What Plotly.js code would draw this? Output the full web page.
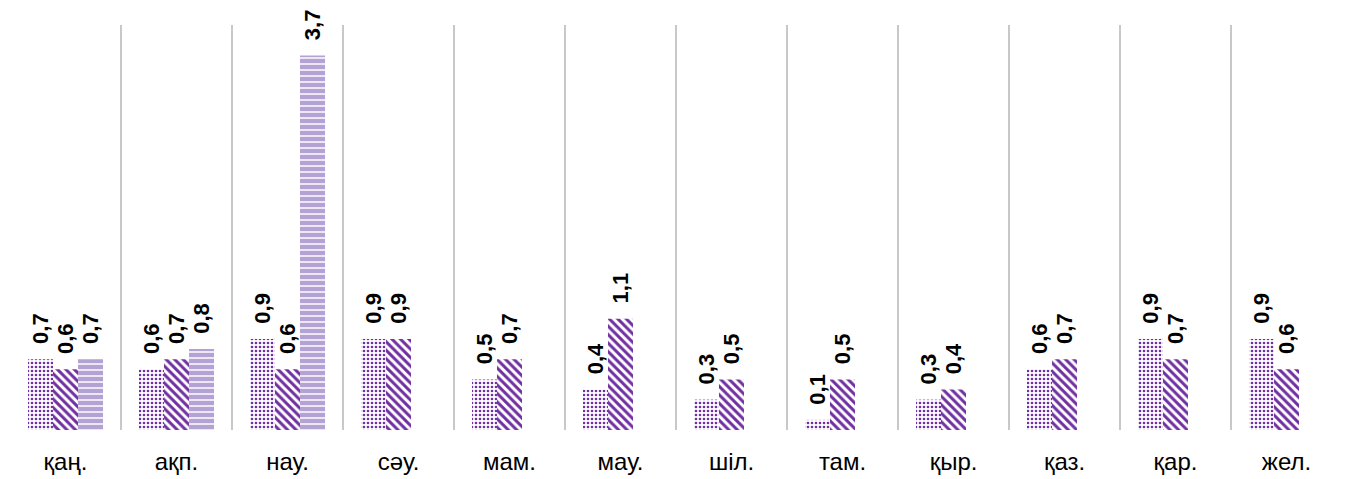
<!DOCTYPE html>
<html><head><meta charset="utf-8">
<script src="https://cdn.plot.ly/plotly-3.0.1.min.js"></script>
<style>body{margin:0;background:#fff}#c{width:1353px;height:479px}</style>
</head><body><div id="c"></div>
<script>
const months = ['қаң.','ақп.','нау.','сәу.','мам.','мау.','шіл.','там.','қыр.','қаз.','қар.','жел.'];
const series1 = [0.7,0.6,0.9,0.9,0.5,0.4,0.3,0.1,0.3,0.6,0.9,0.9];
const series2 = [0.6,0.7,0.6,0.9,0.7,1.1,0.5,0.5,0.4,0.7,0.7,0.6];
const series3 = [0.7,0.8,3.7,null,null,null,null,null,null,null,null,null];

const purple = '#7030a0';
const lilac = '#b3a2d3';
const labelFont = {family:'Liberation Sans, Arial, sans-serif', size:22, color:'#000', weight:'bold'};
function mk(y, marker){
  return {type:'bar', x:months, y:y, marker:marker,
    texttemplate:'\u00a0\u00a0%{y:.1f}', textposition:'outside', textangle:-90,
    textfont:labelFont, cliponaxis:false, constraintext:'none', hoverinfo:'none'};
}
const data = [
  mk(series1, {color:'#fff', line:{width:0}, pattern:{shape:'.', fgcolor:purple, bgcolor:'#fff', size:4, solidity:0.35}}),
  mk(series2, {color:'#fff', line:{width:0}, pattern:{shape:'\\', fgcolor:purple, bgcolor:'#fff', size:6, solidity:0.5}}),
  mk(series3, {color:lilac, line:{width:0}, pattern:{shape:'-', fgcolor:'#fff', bgcolor:lilac, size:6, solidity:0.25}})
];
const layout = {
  width:1353, height:479,
  margin:{l:10, r:11, t:25, b:49},
  paper_bgcolor:'#fff', plot_bgcolor:'#fff',
  separators:', ',
  barmode:'group', bargap:0.324, bargroupgap:0,
  showlegend:false,
  xaxis:{type:'category', tickson:'boundaries', showgrid:true, gridcolor:'#c8c8c8', gridwidth:2,
    ticks:'', showline:false, zeroline:false, ticklabelstandoff:15,
    tickfont:{family:'Liberation Sans, Arial, sans-serif', size:24, color:'#000'}},
  yaxis:{range:[0,4], showgrid:false, showticklabels:false, zeroline:false, showline:false, ticks:''}
};
Plotly.newPlot('c', data, layout, {staticPlot:true});
</script></body></html>
